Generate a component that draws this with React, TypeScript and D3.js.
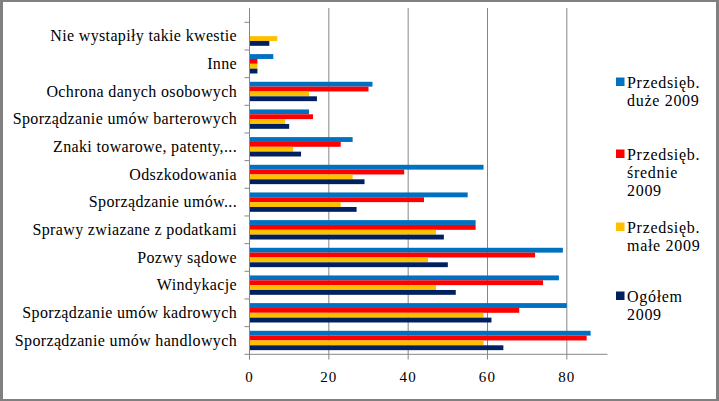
import React from "react";
import * as d3 from "d3";

const categories = [
  "Nie wystapiły takie kwestie",
  "Inne",
  "Ochrona danych osobowych",
  "Sporządzanie umów barterowych",
  "Znaki towarowe, patenty,...",
  "Odszkodowania",
  "Sporządzanie umów...",
  "Sprawy zwiazane z podatkami",
  "Pozwy sądowe",
  "Windykacje",
  "Sporządzanie umów kadrowych",
  "Sporządzanie umów handlowych",
];

const duze2009 = [0, 6, 31, 15, 26, 59, 55, 57, 79, 78, 80, 86];
const srednie2009 = [0, 2, 30, 16, 23, 39, 44, 57, 72, 74, 68, 85];
const male2009 = [7, 2, 15, 9, 11, 26, 23, 47, 45, 47, 59, 59];
const ogolem2009 = [5, 2, 17, 10, 13, 29, 27, 49, 50, 52, 61, 64];

const xTicks = [0, 20, 40, 60, 80];

const seriesNames = ["duze", "srednie", "male", "ogolem"];
const seriesValues = [duze2009, srednie2009, male2009, ogolem2009];
const seriesColors = ["#0070C0", "#FF0000", "#FFC000", "#002060"];
const legendLines = [
  ["Przedsięb.", "duże 2009"],
  ["Przedsięb.", "średnie", "2009"],
  ["Przedsięb.", "małe 2009"],
  ["Ogółem", "2009"],
];

export default function App() {
  const W = 719;
  const H = 401;
  const x = d3.scaleLinear().domain([0, 90]).range([249.5, 606.5]);
  const y = d3.scaleBand<string>().domain(categories).range([22.3, 354.3]).padding(0);
  const bw = y.bandwidth();
  const sub = d3
    .scaleBand<string>()
    .domain(seriesNames)
    .range([bw * 0.15, bw * 0.85])
    .padding(0);
  const axisColor = "#868686";
  const font = "'Liberation Serif', 'Times New Roman', serif";
  const legendTop = [88, 160, 233, 302];

  return (
    <svg
      width={W}
      height={H}
      style={{ position: "fixed", left: 0, top: 0, display: "block" }}
      fontFamily={font}
    >
      <rect x={0} y={0} width={W} height={H} fill="#ffffff" />
      {/* gridlines */}
      {xTicks.slice(1).map((t) => (
        <line key={"g" + t} x1={x(t)} x2={x(t)} y1={8} y2={354.3} stroke={axisColor} strokeWidth={1} />
      ))}
      {/* bars */}
      {categories.map((c, i) => (
        <g key={c} transform={`translate(0,${y(c)})`}>
          {seriesNames.map((s, k) => (
            <rect
              key={s}
              x={x(0)}
              y={sub(s)}
              width={Math.max(0, x(seriesValues[k][i]) - x(0))}
              height={sub.bandwidth()}
              fill={seriesColors[k]}
            />
          ))}
        </g>
      ))}
      {/* y axis */}
      <line x1={x(0)} x2={x(0)} y1={8} y2={359.5} stroke={axisColor} strokeWidth={1} />
      {[...categories.map((c) => y(c) as number), 354.3].map((v, i) => (
        <line key={"yt" + i} x1={244.5} x2={x(0)} y1={v} y2={v} stroke={axisColor} strokeWidth={1} />
      ))}
      {categories.map((c) => (
        <text
          key={"l" + c}
          x={237}
          y={(y(c) as number) + bw / 2}
          dy="0.32em"
          textAnchor="end"
          fontSize={16}
          letterSpacing={0.35}
          fill="#000"
        >
          {c}
        </text>
      ))}
      {/* x axis */}
      <line x1={x(0)} x2={607.5} y1={354.3} y2={354.3} stroke={axisColor} strokeWidth={1} />
      {xTicks.map((t) => (
        <g key={"xt" + t}>
          <line x1={x(t)} x2={x(t)} y1={354.3} y2={359.5} stroke={axisColor} strokeWidth={1} />
          <text x={x(t)} y={381.7} textAnchor="middle" fontSize={15} letterSpacing={1.2} fill="#000">
            {t}
          </text>
        </g>
      ))}
      {/* legend */}
      {legendLines.map((lines, k) => (
        <g key={"lg" + k}>
          <rect x={616} y={legendTop[k] - 10.5} width={8.5} height={8.5} fill={seriesColors[k]} />
          {lines.map((ln, j) => (
            <text key={j} x={627} y={legendTop[k] + j * 17.8} fontSize={16} letterSpacing={0.7} fill="#000">
              {ln}
            </text>
          ))}
        </g>
      ))}
      {/* frame */}
      <rect x={0} y={0} width={W} height={2} fill="#808080" />
      <rect x={0} y={0} width={3} height={H} fill="#808080" />
      <rect x={W - 3} y={0} width={3} height={H} fill="#808080" />
      <rect x={0} y={H - 2} width={W} height={2} fill="#808080" />
    </svg>
  );
}
